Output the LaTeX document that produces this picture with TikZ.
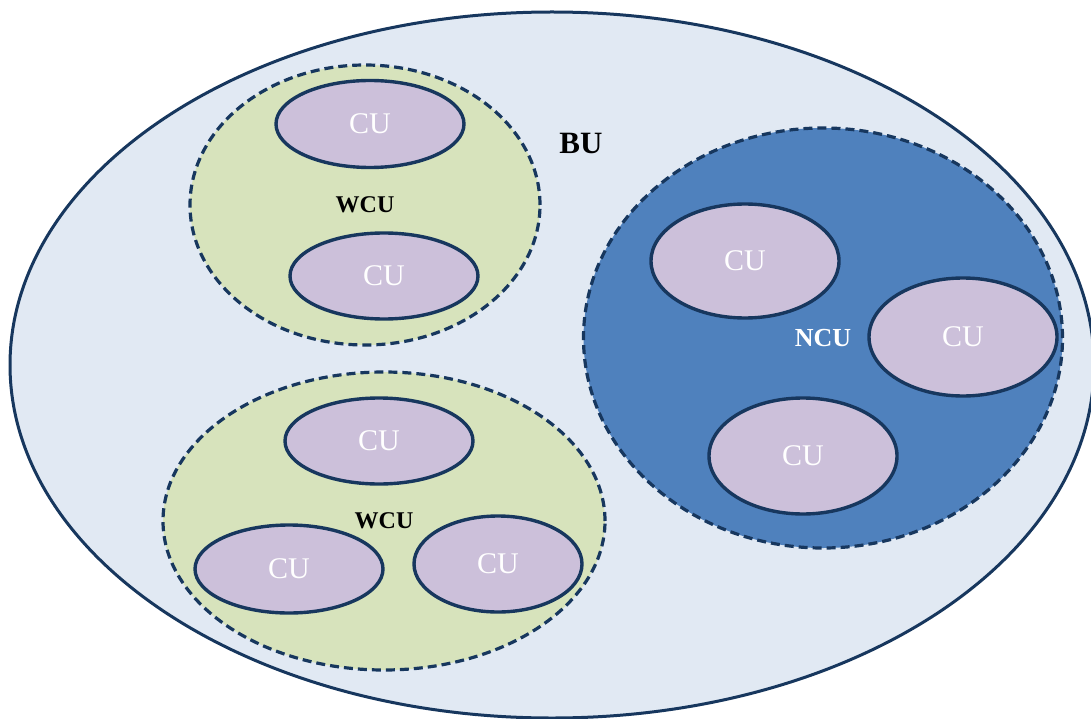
\documentclass[tikz,border=0pt]{standalone}
\usepackage{fontspec}
\setmainfont{Liberation Serif}
\usetikzlibrary{shapes.geometric}
\definecolor{buFill}{RGB}{225,233,243}
\definecolor{wcuFill}{RGB}{215,227,188}
\definecolor{ncuFill}{RGB}{79,129,189}
\definecolor{cuFill}{RGB}{204,192,218}
\definecolor{edgeCol}{RGB}{23,55,94}
\begin{document}
\begin{tikzpicture}[x=1pt,y=-1pt,
    cu/.style={ellipse, draw=edgeCol, fill=cuFill, line width=3.4pt, inner sep=0pt, text=white, font=\fontsize{30}{31}\selectfont},
    group/.style={ellipse, draw=edgeCol, line width=3.2pt, dash pattern=on 9pt off 5pt, inner sep=0pt, font=\bfseries\fontsize{24}{26}\selectfont}]
    \useasboundingbox (0,0) rectangle (1091,719);
    \clip (0,0) rectangle (1091,719);
    \node [ellipse, draw=edgeCol, fill=buFill, line width=3pt, minimum width=1084pt, minimum height=706pt] (bu) at (552,365) {};
    \node [font=\bfseries\fontsize{31}{32}\selectfont] (bulabel) at (581,143) {BU};
    % top WCU
    \node [group, fill=wcuFill, minimum width=350pt, minimum height=280pt] (wcuA) at (365,205) {WCU};
    \node [cu, minimum width=188pt, minimum height=87pt] (cuA) at (370,124) {CU};
    \node [cu, minimum width=188pt, minimum height=86pt] (cuB) at (384,276) {CU};
    % bottom WCU
    \node [group, fill=wcuFill, minimum width=442pt, minimum height=298pt] (wcuB) at (384,521) {WCU};
    \node [cu, minimum width=188pt, minimum height=86pt] (cuC) at (379,441) {CU};
    \node [cu, minimum width=188pt, minimum height=88pt] (cuD) at (289,569) {CU};
    \node [cu, minimum width=168pt, minimum height=96pt] (cuE) at (498,564) {CU};
    % NCU
    \node [group, fill=ncuFill, text=white, font=\bfseries\fontsize{26}{28}\selectfont, minimum width=479pt, minimum height=420pt] (ncu) at (823,338) {NCU};
    \node [cu, minimum width=188pt, minimum height=114pt] (cuF) at (745,261) {CU};
    \node [cu, minimum width=188pt, minimum height=118pt] (cuG) at (963,337) {CU};
    \node [cu, minimum width=188pt, minimum height=116pt] (cuH) at (803,456) {CU};
\end{tikzpicture}
\end{document}
